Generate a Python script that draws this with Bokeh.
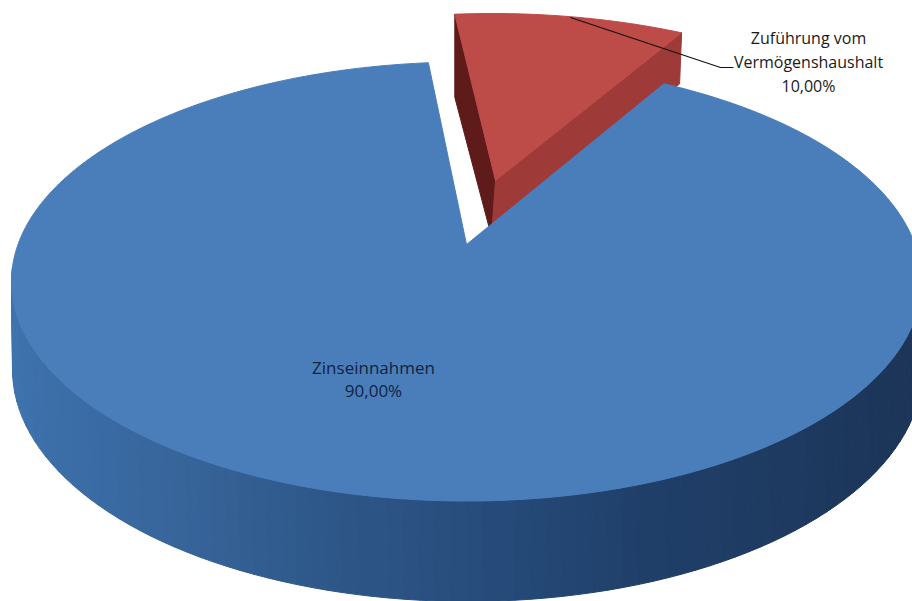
import numpy as np
from bokeh.core.properties import value
from bokeh.embed import file_html
from bokeh.models import Range1d
from bokeh.plotting import figure
from bokeh.resources import INLINE

# ---- data ----
categories = ["Zinseinnahmen", "Zuführung vom Vermögenshaushalt"]
label_lines = [["Zinseinnahmen"], ["Zuführung vom", "Vermögenshaushalt"]]
shares = [90.0, 10.0]
percent_labels = ["90,00%", "10,00%"]

# ---- pie projection (ellipses of the tilted disc, in 912x601 picture units) ----
W, H = 912, 601
TOP = (466.0, 281.0, 455.0, 219.5)
BOTTOM = (467.0, 369.0, 455.0, 232.0)
RED_TOP = (491.0, 208.0, 438.0, 195.0)
BLUE_APEX = (466.0, 244.0)
RED_APEX = (495.0, 180.0)
RED_APEX_LOW = (491.0, 236.0)
PERSPECTIVE = 0.085
RED_START_DEG = 59.7


def view_angle(theta):
    """true angle on the disc -> angle on the perspective ellipse"""
    z = np.exp(1j * theta)
    p = 1j * PERSPECTIVE
    return np.angle((z + p) / (1 + np.conj(p) * z))


def rim(ell, t):
    cx, cy, rx, ry = ell
    return cx + rx * np.cos(t), cy - ry * np.sin(t)


red_span = 2 * np.pi * shares[1] / sum(shares)
th0 = np.radians(RED_START_DEG)
th1 = th0 + red_span
t0, t1 = view_angle(th0), view_angle(th1)

p = figure(width=912, height=601, output_backend="svg", toolbar_location=None,
           x_range=Range1d(0, W), y_range=Range1d(H, 0), min_border=0,
           outline_line_color=None, background_fill_color="white")
p.axis.visible = False
p.grid.visible = False

# ---- blue side wall, shaded strip by strip ----
stops_x = [10, 60, 170, 300, 465, 640, 800, 915]
stops_r = [0x3f, 0x3c, 0x38, 0x30, 0x28, 0x20, 0x1e, 0x1c]
stops_g = [0x74, 0x6e, 0x66, 0x5a, 0x4e, 0x40, 0x3a, 0x35]
stops_b = [0xae, 0xa8, 0x9c, 0x8c, 0x7e, 0x6a, 0x60, 0x58]
edges = np.radians(np.linspace(176, 364, 95))
xs, ys, cols = [], [], []
for a, b in zip(edges[:-1], edges[1:]):
    xa, ya = rim(TOP, a)
    xb, yb = rim(TOP, b)
    xc, yc = rim(BOTTOM, b)
    xd, yd = rim(BOTTOM, a)
    xs.append([xa, xb, xc, xd])
    ys.append([ya, yb, yc, yd])
    xm = (xa + xb + xc + xd) / 4
    cols.append("#%02x%02x%02x" % (int(np.interp(xm, stops_x, stops_r)),
                                   int(np.interp(xm, stops_x, stops_g)),
                                   int(np.interp(xm, stops_x, stops_b))))
p.patches(xs, ys, fill_color=cols, line_color=cols, line_width=1)

# ---- red exploded slice ----
lx, ly = rim(RED_TOP, t1)
rx_, ry_ = rim(RED_TOP, t0)
p.patch([lx, RED_APEX[0], RED_APEX_LOW[0], lx], [ly, RED_APEX[1], RED_APEX_LOW[1], ly + 83],
        fill_color="#5f1b19", line_color="#5f1b19")
p.patch([rx_, RED_APEX[0], RED_APEX_LOW[0], rx_ - 2], [ry_, RED_APEX[1], RED_APEX_LOW[1], ry_ + 51],
        fill_color="#9e3a37", line_color="#9e3a37")
tt = np.linspace(t0, t1, 60)
rimx, rimy = rim(RED_TOP, tt)
p.patch(np.r_[RED_APEX[0], rimx], np.r_[RED_APEX[1], rimy],
        fill_color="#bd4b48", line_color="#bd4b48")

# ---- blue top face ----
tb = np.linspace(t1, t0 + 2 * np.pi, 400)
bx, by = rim(TOP, tb)
p.patch(np.r_[BLUE_APEX[0], bx], np.r_[BLUE_APEX[1], by],
        fill_color="#4a7ebb", line_color="#4a7ebb")

# ---- leader + labels ----
p.line([570, 720, 733], [17, 67, 67], line_color="#111111", line_width=1.2)
p.text([373, 373], [367, 390], text=[label_lines[0][0], percent_labels[0]],
       text_font=value("Open Sans"), text_font_size="17px", text_color="#13233f",
       text_align="center", text_baseline="middle")
p.text([808, 808, 808], [37, 61, 85],
       text=[label_lines[1][0], label_lines[1][1], percent_labels[1]],
       text_font=value("Open Sans"), text_font_size="16px", text_color="#1a1a1a",
       text_align="center", text_baseline="middle")

open("out.html", "w").write(file_html(p, INLINE))
